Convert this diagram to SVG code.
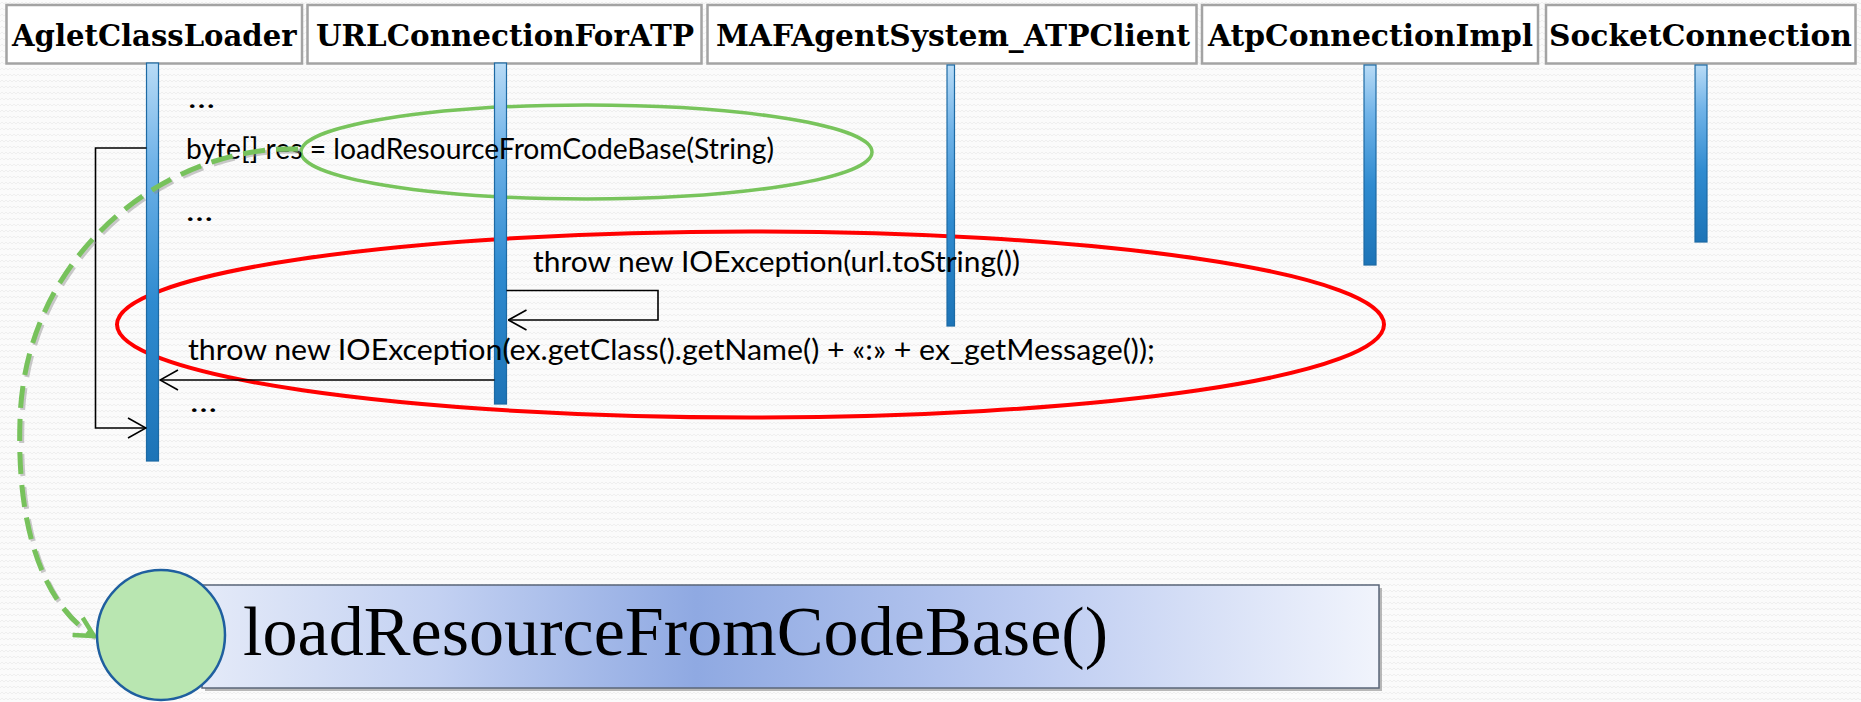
<svg xmlns="http://www.w3.org/2000/svg" width="1861" height="702" viewBox="0 0 1861 702">
  <defs>
    <style>
      .hdr-box { fill: #ffffff; stroke: #a3a3a3; stroke-width: 2.5; }
      .hdr-txt { font-family: "DejaVu Serif", "Liberation Serif", serif; font-weight: bold; font-size: 30px; fill: #000000; }
      .life { fill: url(#lifeGrad); stroke: #1d6aa4; stroke-width: 1.2; }
      .msg { fill: none; stroke: #000000; stroke-width: 1.6; }
      .code { font-family: Lato, "Open Sans", "Liberation Sans", sans-serif; font-size: 28px; fill: #000000; }
      .banner-txt { font-family: "Liberation Serif", "DejaVu Serif", serif; font-size: 70px; fill: #000000; }
    </style>
    <pattern id="weave" width="8" height="6" patternUnits="userSpaceOnUse">
      <rect width="8" height="6" fill="#fbfbfb"/>
      <polyline points="0,4 2,2 4,4 6,2 8,4" fill="none" stroke="#efefef" stroke-width="1"/>
    </pattern>
    <linearGradient id="lifeGrad" x1="0" y1="0" x2="0" y2="1">
      <stop offset="0" stop-color="#b8dbf6"/>
      <stop offset="0.25" stop-color="#70b3e8"/>
      <stop offset="0.6" stop-color="#2f8bd0"/>
      <stop offset="1" stop-color="#1d74b7"/>
    </linearGradient>
    <linearGradient id="bannerGrad" x1="0" y1="0" x2="1" y2="0">
      <stop offset="0" stop-color="#e4eaf8"/>
      <stop offset="0.2" stop-color="#c3d1f2"/>
      <stop offset="0.42" stop-color="#8fa9e2"/>
      <stop offset="0.7" stop-color="#bccbf1"/>
      <stop offset="1" stop-color="#f1f4fc"/>
    </linearGradient>
    <marker id="openArrow" viewBox="0 0 20 22" refX="19" refY="11" markerWidth="20" markerHeight="22" markerUnits="userSpaceOnUse" orient="auto">
      <path d="M1,1 L19,11 L1,21" fill="none" stroke="#000000" stroke-width="1.6"/>
    </marker>
    <marker id="greenArrow" viewBox="0 0 24 24" refX="21" refY="12" markerWidth="24" markerHeight="24" markerUnits="userSpaceOnUse" orient="auto">
      <path d="M2,2 L21,12 L2,22" fill="none" stroke="#77c25c" stroke-width="4.5"/>
    </marker>
  </defs>

  <!-- textured page background -->
  <rect x="0" y="0" width="1861" height="702" fill="url(#weave)"/>

  <!-- highlight ellipses -->
  <g id="highlights">
    <ellipse cx="586.5" cy="152" rx="285.5" ry="47" fill="none" stroke="#78c45c" stroke-width="3.5"/>
    <ellipse cx="750.5" cy="324.5" rx="633.5" ry="93" fill="none" stroke="#ff0000" stroke-width="4"/>
  </g>

  <!-- participants: header box + lifeline -->
  <g id="agletClassLoader">
    <rect class="hdr-box" x="6.5" y="5" width="295.5" height="58.5"/>
    <text class="hdr-txt" x="12" y="45.5" textLength="284.5" lengthAdjust="spacingAndGlyphs">AgletClassLoader</text>
    <rect class="life" x="146.5" y="63" width="12" height="398"/>
  </g>
  <g id="urlConnectionForATP">
    <rect class="hdr-box" x="307.5" y="5" width="394" height="58.5"/>
    <text class="hdr-txt" x="316" y="45.5" textLength="378" lengthAdjust="spacingAndGlyphs">URLConnectionForATP</text>
    <rect class="life" x="494.5" y="63" width="12" height="341"/>
  </g>
  <g id="mafAgentSystemATPClient">
    <rect class="hdr-box" x="707.5" y="5" width="489" height="58.5"/>
    <text class="hdr-txt" x="716" y="45.5" textLength="474" lengthAdjust="spacingAndGlyphs">MAFAgentSystem_ATPClient</text>
    <rect class="life" x="947" y="65" width="7.5" height="261"/>
  </g>
  <g id="atpConnectionImpl">
    <rect class="hdr-box" x="1202" y="5" width="336" height="58.5"/>
    <text class="hdr-txt" x="1208" y="45.5" textLength="325" lengthAdjust="spacingAndGlyphs">AtpConnectionImpl</text>
    <rect class="life" x="1364" y="65" width="12" height="200"/>
  </g>
  <g id="socketConnection">
    <rect class="hdr-box" x="1546" y="5" width="309.5" height="58.5"/>
    <text class="hdr-txt" x="1549" y="45.5" textLength="303" lengthAdjust="spacingAndGlyphs">SocketConnection</text>
    <rect class="life" x="1695" y="65" width="12" height="177"/>
  </g>

  <!-- messages -->
  <g id="connectors">
    <path class="msg" d="M146.5,148 H95.5 V428 H146" marker-end="url(#openArrow)"/>
    <path class="msg" d="M506.5,290.5 H658 V320 H508.5" marker-end="url(#openArrow)"/>
    <path class="msg" d="M494.5,380 H160" marker-end="url(#openArrow)"/>
  </g>

  <!-- code annotations -->
  <g id="codeText">
    <text class="code" x="188" y="108" textLength="27" lengthAdjust="spacingAndGlyphs">…</text>
    <text class="code" x="186" y="159" textLength="588" lengthAdjust="spacingAndGlyphs">byte[] res = loadResourceFromCodeBase(String)</text>
    <text class="code" x="186" y="221" textLength="27" lengthAdjust="spacingAndGlyphs">…</text>
    <text class="code" x="533" y="272" textLength="487" lengthAdjust="spacingAndGlyphs">throw new IOException(url.toString())</text>
    <text class="code" x="188" y="360" textLength="967" lengthAdjust="spacingAndGlyphs">throw new IOException(ex.getClass().getName() + «:» + ex_getMessage());</text>
    <text class="code" x="190" y="412" textLength="27" lengthAdjust="spacingAndGlyphs">…</text>
  </g>

  <!-- dashed link from the call to its detail banner -->
  <g id="detailLink">
    <path d="M300,151 C172,147 27,252 22,422 C18,542 52,612 96,638" fill="none" stroke="#8a8a8a" stroke-opacity="0.45" stroke-width="5" stroke-dasharray="22 11"/>
    <path d="M298,149 C170,145 25,250 20,420 C16,540 50,610 94,636" fill="none" stroke="#77c25c" stroke-width="5" stroke-dasharray="22 11" marker-end="url(#greenArrow)"/>
  </g>

  <!-- detail banner -->
  <g id="detailBanner">
    <rect x="205" y="588" width="1177" height="103" fill="#8c8c8c" fill-opacity="0.6"/>
    <rect x="202" y="585" width="1177" height="103" fill="url(#bannerGrad)" stroke="#5a6678" stroke-width="1.5"/>
    <text class="banner-txt" x="243" y="655" textLength="865" lengthAdjust="spacingAndGlyphs">loadResourceFromCodeBase()</text>
    <ellipse cx="161" cy="635" rx="64" ry="65" fill="#b9e6b1" stroke="#1f5f9f" stroke-width="2.5"/>
  </g>
</svg>
